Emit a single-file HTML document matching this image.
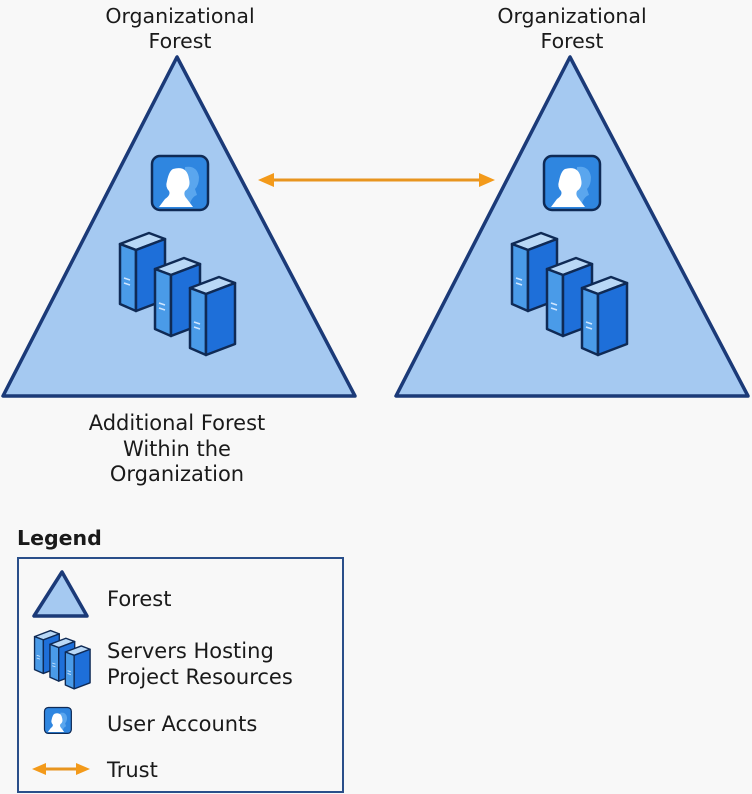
<!DOCTYPE html>
<html><head><meta charset="utf-8"><style>
html,body{margin:0;padding:0;background:#f8f8f8;}
svg{display:block;}
text{font-family:"DejaVu Sans","Liberation Sans",sans-serif;fill:#1a1a1a;}
</style></head><body>
<svg width="752" height="794" viewBox="0 0 752 794" xmlns="http://www.w3.org/2000/svg">
<defs>
<g id="srv">
  <polygon points="1,12 30,1 46,7 17,18" fill="#b9d8f6" stroke="#0f2a55" stroke-width="2.5" stroke-linejoin="round"/>
  <polygon points="1,12 17,18 17,79 1,72" fill="#4a9be8" stroke="#0f2a55" stroke-width="2.5" stroke-linejoin="round"/>
  <polygon points="17,18 46,7 46,68 17,79" fill="#1e6fd9" stroke="#0f2a55" stroke-width="2.5" stroke-linejoin="round"/>
  <line x1="5" y1="46" x2="11" y2="48" stroke="#cfe6ff" stroke-width="1.5"/>
  <line x1="5" y1="51" x2="11" y2="53" stroke="#cfe6ff" stroke-width="1.5"/>
</g>
<g id="usr">
  <rect x="1" y="1" width="56" height="54" rx="8" fill="#2f86e0" stroke="#0f2a55" stroke-width="2.5"/>
  <path d="M34 12 q12 -2 14 10 q0 8 -4 12 l2 6 q-6 2 -8 12 l-6 0z" fill="#5aa6ee"/>
  <path d="M22 14 q14 -4 16 10 q2 8 -4 12 q-2 4 2 8 l6 8 l-34 0 l6 -8 q6 -4 4 -8 q-4 -4 -2 -10 q2 -10 6 -12z" fill="#ffffff"/>
</g>
<g id="tri">
  <polygon points="177,57 3,396 355,396" fill="#a5c9f1" stroke="#1b3a78" stroke-width="3.5" stroke-linejoin="round"/>
</g>
</defs>

<text x="180" y="23" font-size="20.5" text-anchor="middle">Organizational</text>
<text x="180" y="48" font-size="20.5" text-anchor="middle">Forest</text>
<text x="572" y="23" font-size="20.5" text-anchor="middle">Organizational</text>
<text x="572" y="48" font-size="20.5" text-anchor="middle">Forest</text>

<use href="#tri" x="0" y="0"/>
<use href="#tri" x="393" y="0"/>

<use href="#usr" x="151" y="155"/>
<use href="#usr" x="543" y="155"/>

<use href="#srv" x="119" y="232"/>
<use href="#srv" x="154" y="257"/>
<use href="#srv" x="189" y="276"/>
<use href="#srv" x="511" y="232"/>
<use href="#srv" x="546" y="257"/>
<use href="#srv" x="581" y="276"/>

<line x1="270" y1="180" x2="482" y2="180" stroke="#e8951f" stroke-width="3"/>
<polygon points="258,180 274,173 274,187" fill="#f39a1a"/>
<polygon points="495,180 479,173 479,187" fill="#f39a1a"/>

<text x="177" y="430" font-size="21" text-anchor="middle">Additional Forest</text>
<text x="177" y="456" font-size="21" text-anchor="middle">Within the</text>
<text x="177" y="481" font-size="21" text-anchor="middle">Organization</text>

<text x="17" y="545" font-size="20.5" font-weight="bold">Legend</text>
<rect x="18" y="558" width="325" height="234" fill="#f8f8f8" stroke="#2a4f8a" stroke-width="2"/>

<polygon points="62,572 34,616 87,616" fill="#a5c9f1" stroke="#1b3a78" stroke-width="3.5" stroke-linejoin="round"/>
<text x="107" y="606" font-size="21">Forest</text>

<g transform="translate(34,630) scale(0.55)">
  <use href="#srv" x="0" y="0"/>
  <use href="#srv" x="28" y="14"/>
  <use href="#srv" x="56" y="28"/>
</g>
<text x="107" y="658" font-size="21">Servers Hosting</text>
<text x="107" y="684" font-size="21">Project Resources</text>

<g transform="translate(44,707) scale(0.48)"><use href="#usr"/></g>
<text x="107" y="731" font-size="21">User Accounts</text>

<line x1="42" y1="769" x2="80" y2="769" stroke="#e8951f" stroke-width="3"/>
<polygon points="32,769 46,763 46,775" fill="#f39a1a"/>
<polygon points="90,769 76,763 76,775" fill="#f39a1a"/>
<text x="107" y="777" font-size="21">Trust</text>
</svg>
</body></html>
